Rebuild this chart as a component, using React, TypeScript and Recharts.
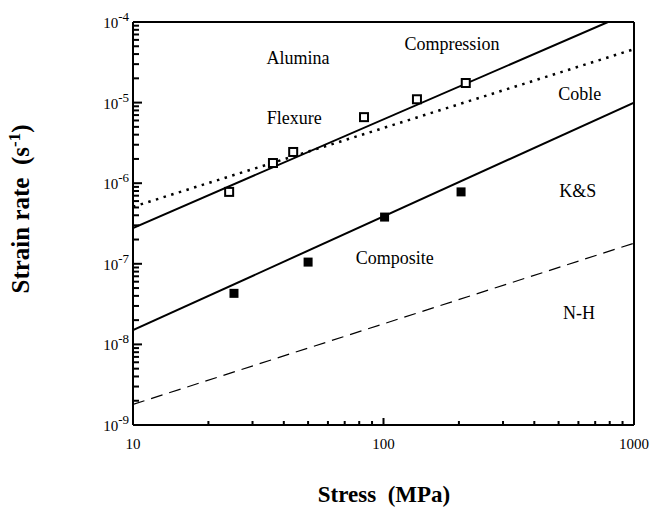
import React from 'react'
import {
  ComposedChart,
  Line,
  Scatter,
  XAxis,
  YAxis,
  ReferenceLine,
  ReferenceDot,
} from 'recharts'

// measured points (stress MPa, strain rate 1/s)
const aluminaPoints = [
  { x: 24.2, y: 7.8e-7 },
  { x: 36.2, y: 1.78e-6 },
  { x: 43.6, y: 2.44e-6 },
  { x: 83.6, y: 6.6e-6 },
  { x: 136, y: 1.1e-5 },
  { x: 213, y: 1.75e-5 },
]
const compositePoints = [
  { x: 25.3, y: 4.3e-8 },
  { x: 50, y: 1.05e-7 },
  { x: 101, y: 3.8e-7 },
  { x: 204, y: 7.8e-7 },
]

// fitted / model lines
const aluminaFit = [
  { x: 10, y: 2.78e-7 },
  { x: 787, y: 1e-4 },
]
const cobleLine = [
  { x: 10, y: 5.1e-7 },
  { x: 1000, y: 4.6e-5 },
]
const compositeFit = [
  { x: 10, y: 1.5e-8 },
  { x: 1000, y: 1e-5 },
]
const nhLine = [
  { x: 10, y: 1.8e-9 },
  { x: 1000, y: 1.8e-7 },
]

const annotations = [
  { text: 'Alumina', x: 45.6, y: 3.57e-5 },
  { text: 'Compression', x: 187.5, y: 5.34e-5 },
  { text: 'Flexure', x: 44, y: 6.44e-6 },
  { text: 'Coble', x: 608, y: 1.31e-5 },
  { text: 'K&S', x: 597, y: 8.0e-7 },
  { text: 'Composite', x: 111, y: 1.18e-7 },
  { text: 'N-H', x: 603, y: 2.45e-8 },
]

const xMajor = [10, 100, 1000]
const yMajor = [1e-9, 1e-8, 1e-7, 1e-6, 1e-5, 1e-4]
const mantissas = [2, 3, 4, 5, 6, 7, 8, 9]

const xTicks = [
  ...xMajor,
  ...xMajor.slice(0, -1).flatMap((d) => mantissas.map((m) => m * d)),
]
const yTicks = [
  ...yMajor,
  ...yMajor.slice(0, -1).flatMap((d) => mantissas.map((m) => m * d)),
]

const serif = 'Liberation Serif, Times New Roman, serif'

const isMajor = (v: number) => {
  const e = Math.round(Math.log10(v))
  return Math.abs(v - Math.pow(10, e)) < v * 1e-6
}

// ticks point into the plot, like the original
function YTick(props: any) {
  const { x, y, payload } = props
  const v = payload.value
  const major = isMajor(v)
  const exp = Math.round(Math.log10(v))
  return (
    <g>
      <rect x={x} y={y - 1} width={major ? 9 : 6} height={2} fill="#000" />
      {major && (
        <text x={x - 4} y={y + 6} textAnchor="end" fontFamily={serif} fontSize={15} fill="#000">
          10
          <tspan dy={-7} fontSize={13}>
            {'-' + Math.abs(exp)}
          </tspan>
        </text>
      )}
    </g>
  )
}

function XTick(props: any) {
  const { x, y, payload } = props
  const v = payload.value
  const major = isMajor(v)
  const len = major ? 7 : 4
  return (
    <g>
      <rect x={x - 1} y={y - len} width={2} height={len} fill="#000" />
      {major && (
        <text x={x} y={y + 24} textAnchor="middle" fontFamily={serif} fontSize={15} fill="#000">
          {v}
        </text>
      )}
    </g>
  )
}

const openSquare = (p: any) => (
  <rect x={p.cx - 4} y={p.cy - 4} width={8} height={8} fill="#fff" stroke="#000" strokeWidth={2} />
)
const filledSquare = (p: any) => (
  <rect x={p.cx - 4.5} y={p.cy - 4.5} width={9} height={9} fill="#000" />
)

export default function App() {
  return (
    <div style={{ position: 'absolute', left: 0, top: 0, background: '#fff' }}>
      <ComposedChart width={651} height={511} margin={{ top: 22, right: 17, bottom: 46, left: 73 }}>
        <XAxis
          dataKey="x"
          type="number"
          scale="log"
          domain={[10, 1000]}
          allowDataOverflow
          ticks={xTicks}
          interval={0}
          tick={<XTick />}
          tickLine={false}
          tickSize={0}
          tickMargin={0}
          height={40}
          axisLine={{ stroke: '#000', strokeWidth: 2 }}
          label={{
            content: () => (
              <text
                x={384}
                y={502}
                textAnchor="middle"
                fontFamily={serif}
                fontWeight="bold"
                fontSize={23}
                fill="#000"
                style={{ whiteSpace: 'pre' }}
              >
                {'Stress  (MPa)'}
              </text>
            ),
          }}
        />
        <YAxis
          dataKey="y"
          type="number"
          scale="log"
          domain={[1e-9, 1e-4]}
          allowDataOverflow
          ticks={yTicks}
          interval={0}
          tick={<YTick />}
          tickLine={false}
          tickSize={0}
          tickMargin={0}
          width={60}
          axisLine={{ stroke: '#000', strokeWidth: 2 }}
          label={{
            content: () => (
              <text
                x={29}
                y={209}
                transform="rotate(-90 29 209)"
                textAnchor="middle"
                fontFamily={serif}
                fontWeight="bold"
                fontSize={25}
                fill="#000"
                style={{ whiteSpace: 'pre' }}
              >
                {'Strain rate  (s'}
                <tspan dy={-9} fontSize={17}>
                  -1
                </tspan>
                <tspan dy={9}>)</tspan>
              </text>
            ),
          }}
        />
        <ReferenceLine y={1e-4} stroke="#000" strokeWidth={2} ifOverflow="visible" />
        <ReferenceLine x={1000} stroke="#000" strokeWidth={2} ifOverflow="visible" />

        <Line data={aluminaFit} dataKey="y" stroke="#000" strokeWidth={2} dot={false} isAnimationActive={false} />
        <Line
          data={cobleLine}
          dataKey="y"
          stroke="#000"
          strokeWidth={2.5}
          strokeDasharray="2.5 5.5"
          dot={false}
          isAnimationActive={false}
        />
        <Line data={compositeFit} dataKey="y" stroke="#000" strokeWidth={2} dot={false} isAnimationActive={false} />
        <Line
          data={nhLine}
          dataKey="y"
          stroke="#000"
          strokeWidth={1.2}
          strokeDasharray="12 7"
          dot={false}
          isAnimationActive={false}
        />
        <Scatter data={aluminaPoints} shape={openSquare} isAnimationActive={false} />
        <Scatter data={compositePoints} shape={filledSquare} isAnimationActive={false} />

        {annotations.map((a) => (
          <ReferenceDot
            key={a.text}
            x={a.x}
            y={a.y}
            r={0}
            stroke="none"
            fill="none"
            label={{
              value: a.text,
              position: 'center',
              fontFamily: serif,
              fontSize: 18,
              fill: '#000',
            }}
          />
        ))}
      </ComposedChart>
    </div>
  )
}
